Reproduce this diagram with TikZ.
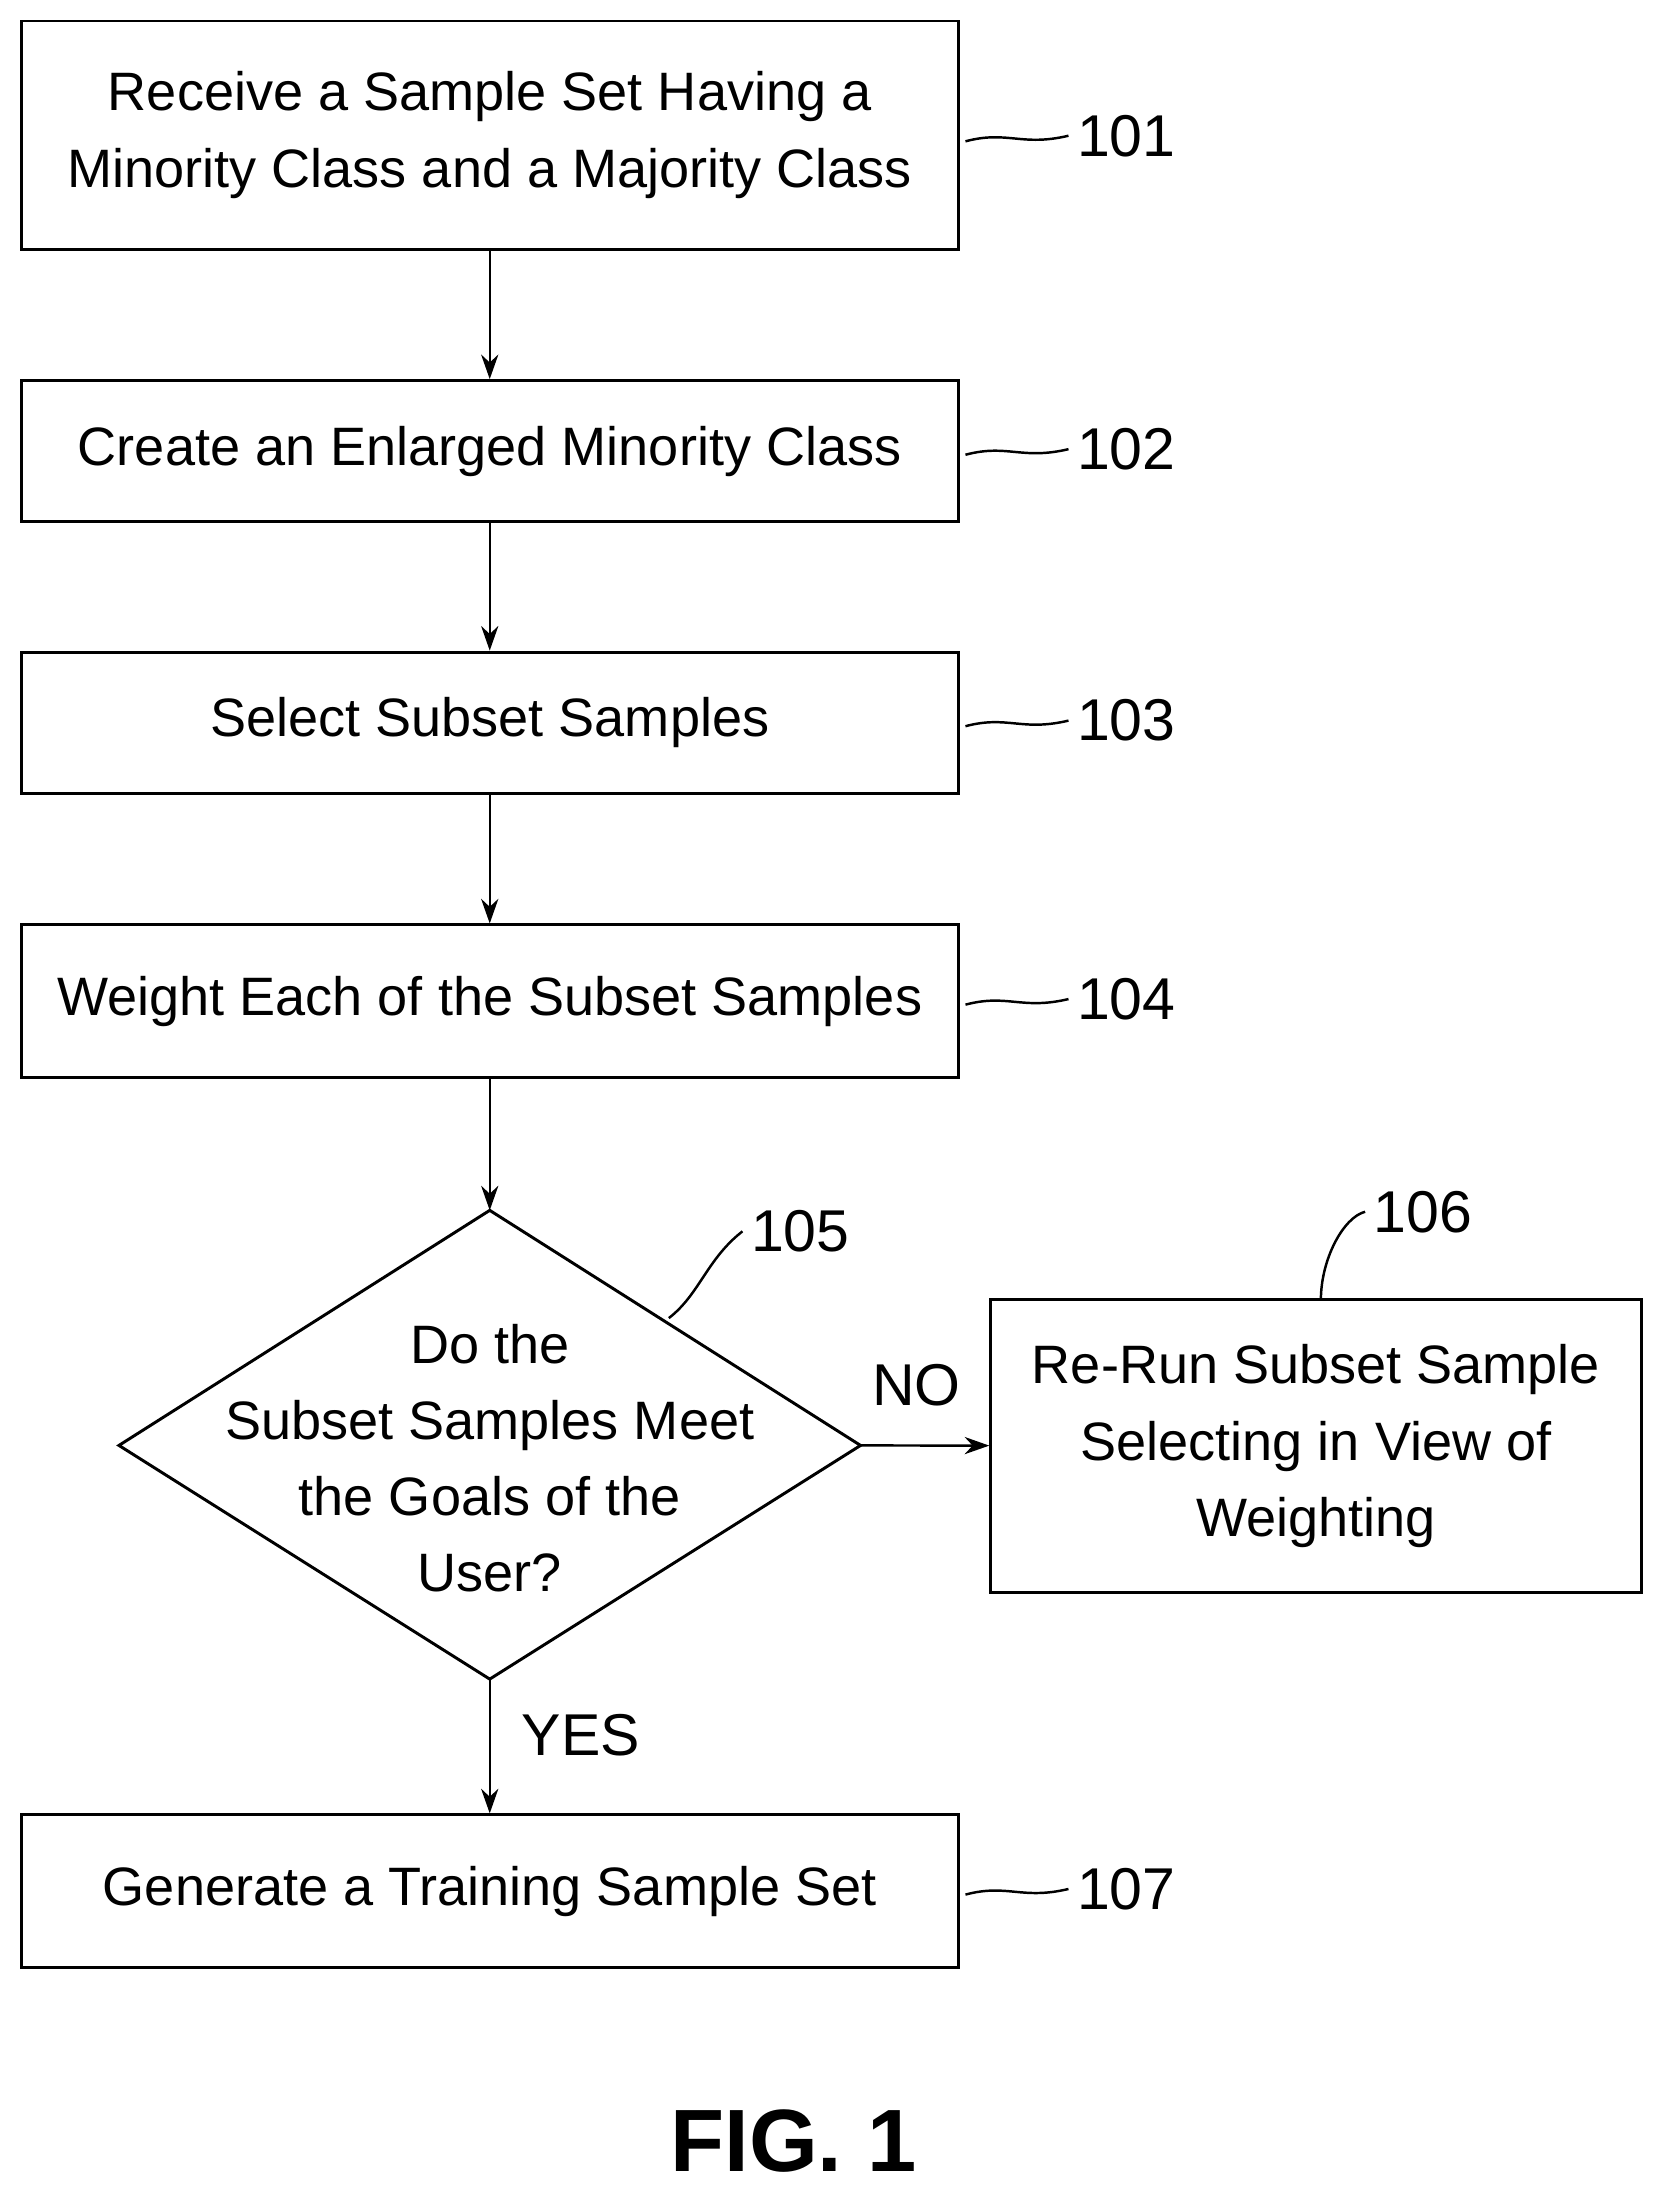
\documentclass[tikz,border=0pt]{standalone}
\usepackage{fontspec}
\setmainfont{Liberation Sans}
\usetikzlibrary{shapes.geometric,arrows.meta}
\begin{document}
\begin{tikzpicture}[x=0.02cm,y=0.02cm,
 box/.style={draw,line width=1.2pt,align=center,font=\fontsize{22}{31}\selectfont,inner sep=0pt},
 lab/.style={font=\fontsize{24}{28}\selectfont},
 arr/.style={-{Stealth[length=10pt,width=7pt]},line width=1pt},
 lead/.style={line width=1pt}]
\useasboundingbox (0,0) rectangle (1190,-1568);
\node[box,minimum width=13.4cm,minimum height=3.26cm] (b1) at (350,-96.5) {Receive a Sample Set Having a\\Minority Class and a Majority Class};
\node[box,minimum width=13.4cm,minimum height=2.02cm] (b2) at (350,-322.5) {Create an Enlarged Minority Class};
\node[box,minimum width=13.4cm,minimum height=2.02cm] (b3) at (350,-516.5) {Select Subset Samples};
\node[box,minimum width=13.4cm,minimum height=2.18cm] (b4) at (350,-715.5) {Weight Each of the Subset Samples};
\node[box,draw=none] (d5t) at (350,-1042) {Do the\\Subset Samples Meet\\the Goals of the\\User?};
\draw[line width=1.2pt] (350,-865) coordinate (dt) -- (615,-1033) coordinate (dr) -- (350,-1200) coordinate (db) -- (85,-1033) -- cycle;
\node[box,minimum width=9.3cm,minimum height=4.18cm] (b6) at (940.5,-1033.5) {Re-Run Subset Sample\\Selecting in View of\\Weighting};
\node[box,minimum width=13.4cm,minimum height=2.18cm] (b7) at (350,-1351.5) {Generate a Training Sample Set};
\draw[arr] (b1) -- (b2);
\draw[arr] (b2) -- (b3);
\draw[arr] (b3) -- (b4);
\draw[arr] (b4) -- (dt);
\draw[arr] (dr) -- (b6);
\draw[arr] (db) -- (b7);
\node[lab] (no) at (655,-990) {NO};
\node[lab] (yes) at (415,-1240) {YES};
\foreach \n/\y in {101/97,102/321,103/515,104/714,107/1350}{
 \node[lab] (l\n) at (805,-\y) {\n};
 \draw[lead] (690,-\y-4) .. controls (720,-\y+4) and (730,-\y-8) .. (l\n.west);
}
\node[lab] (l105) at (572,-880) {105};
\draw[lead] (478,-942) .. controls (500,-925) and (505,-900) .. (l105.west);
\node[lab] (l106) at (1017,-866) {106};
\draw[lead] (944,-929) .. controls (944,-900) and (960,-870) .. (l106.west);
\node[font=\bfseries\fontsize{36}{40}\selectfont] (fig) at (567,-1530) {FIG. 1};
\end{tikzpicture}
\end{document}
